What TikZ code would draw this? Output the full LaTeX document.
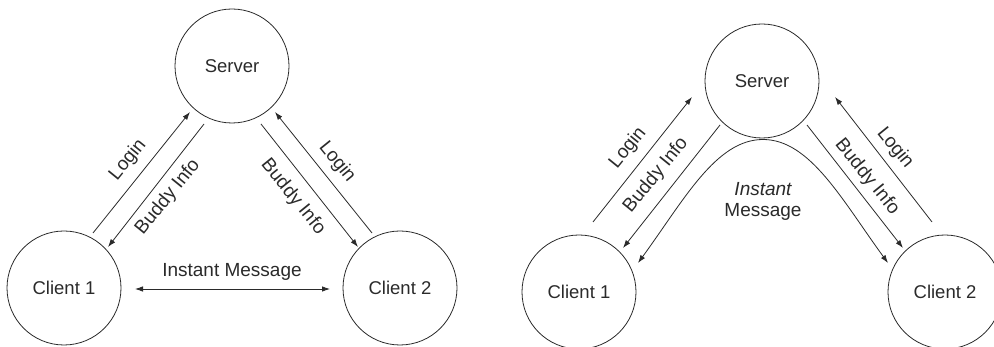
\documentclass[tikz,border=0pt]{standalone}
\usepackage{fontspec}
\setmainfont{Liberation Sans}
\usetikzlibrary{arrows.meta,calc}
\definecolor{ink}{HTML}{2A2A2A}
\tikzset{
  peer/.style={circle, draw=ink, line width=0.8pt, minimum size=114pt, inner sep=0pt,
    text=ink, font=\fontsize{18.5}{20}\selectfont},
  msg/.style={draw=ink, line width=0.8pt, -{Latex[length=8pt,width=5.5pt]}},
  dmsg/.style={draw=ink, line width=0.8pt, {Latex[length=8pt,width=5.5pt]}-{Latex[length=8pt,width=5.5pt]}},
  lbl/.style={text=ink, inner sep=0pt, font=\fontsize{19}{20}\selectfont}
}
\begin{document}
\begin{tikzpicture}[x=1pt,y=-1pt]
\useasboundingbox (0,0) rectangle (994,347);

% ---------- direct messaging between clients ----------
\node[peer] (srvA) at (232,66) {Server};
\node[peer] (cliA1) at (64,288) {Client 1};
\node[peer] (cliA2) at (400,288) {Client 2};

\draw[msg] ($(cliA1)+(29,-55)$) -- ($(srvA)+(-42,46)$);
\draw[msg] ($(srvA)+(-28,58)$) -- ($(cliA1)+(44,-41)$);
\draw[msg] ($(srvA)+(29,58)$) -- ($(cliA2)+(-42,-41)$);
\draw[msg] ($(cliA2)+(-28,-55)$) -- ($(srvA)+(43,46)$);
\draw[dmsg] ($(cliA1)+(71,1)$) -- ($(cliA2)+(-70,1)$);

\node[lbl, rotate=51] (loginA1) at (128,160) {Login};
\node[lbl, rotate=51] (buddyA1) at (168,197) {Buddy Info};
\node[lbl, rotate=-51] (buddyA2) at (293,197) {Buddy Info};
\node[lbl, rotate=-51] (loginA2) at (337,162) {Login};
\node[lbl] (imA) at (232,272) {Instant Message};

% ---------- messaging relayed through the server ----------
\node[peer] (srvB) at (762,81) {Server};
\node[peer] (cliB1) at (579,292) {Client 1};
\node[peer] (cliB2) at (945,292) {Client 2};

\draw[msg] ($(cliB1)+(14,-70)$) -- ($(srvB)+(-70,16)$);
\draw[msg] ($(srvB)+(-42,44)$) -- ($(cliB1)+(44,-44)$);
\draw[msg] ($(srvB)+(45,44)$) -- ($(cliB2)+(-42,-44)$);
\draw[msg] ($(cliB2)+(-13,-70)$) -- ($(srvB)+(73,16)$);
\coordinate (imTop) at ($(srvB)+(1,58.5)$);
\draw[dmsg] ($(cliB1)+(59,-29)$) .. controls (684,200) and (716,139.5) .. (imTop)
  .. controls (810,139.5) and (842,200) .. ($(cliB2)+(-57,-29)$);

\node[lbl, rotate=51] (loginB1) at (628,148) {Login};
\node[lbl, rotate=51] (buddyB1) at (656,175) {Buddy Info};
\node[lbl, rotate=-51] (buddyB2) at (867,177) {Buddy Info};
\node[lbl, rotate=-51] (loginB2) at (895,148) {Login};
\node[lbl, align=center] (imB) at (763,201) {\itshape Instant\\[1pt]Message};
\end{tikzpicture}
\end{document}
